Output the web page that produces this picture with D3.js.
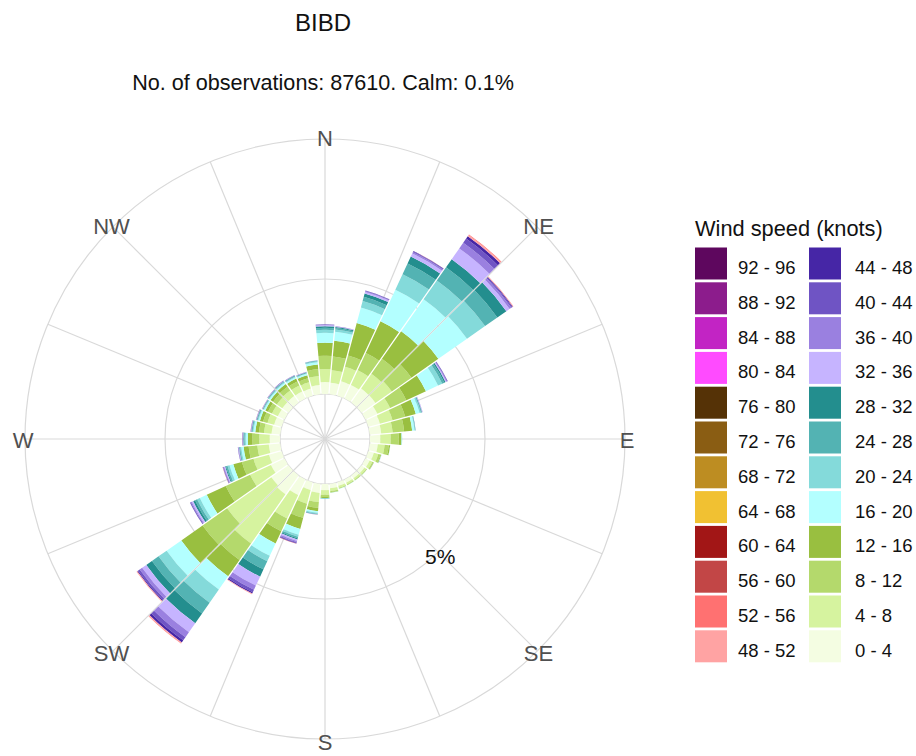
<!DOCTYPE html>
<html>
<head>
<meta charset="utf-8">
<script src="https://cdn.jsdelivr.net/npm/d3@7"></script>
<style>
body { margin: 0; background: #fff; }
svg { font-family: "Liberation Sans", Arial, sans-serif; }
</style>
</head>
<body>
<svg width="916" height="756"></svg>
<script>
// wind directions (degrees), one bar every 10
const directions = d3.range(0, 360, 10)

// speed bins (knots) and their colours, low to high
const speedBins = ["0 - 4", "4 - 8", "8 - 12", "12 - 16", "16 - 20", "20 - 24",
	"24 - 28", "28 - 32", "32 - 36", "36 - 40", "40 - 44", "44 - 48",
	"48 - 52", "52 - 56", "56 - 60", "60 - 64", "64 - 68", "68 - 72",
	"72 - 76", "76 - 80", "80 - 84", "84 - 88", "88 - 92", "92 - 96"]
const binColours = ["#f4fde2", "#d6f39f", "#b4d96c", "#99bf40", "#b3ffff", "#84dada",
	"#53b3b3", "#238e8e", "#c6b4ff", "#9a80e0", "#6f54c4", "#4626a6",
	"#ffa3a3", "#ff7171", "#c24646", "#a21616", "#f1c132", "#bd8d22",
	"#8a5d13", "#553206", "#ff4bff", "#c224c4", "#8c1c8c", "#5e075e"]

// percentage of observations per direction, one array per speed bin
const s0_4   = [0.52,0.50,0.65,0.65,0.74,0.74,0.57,0.52,0.50,0.45,0.35,0.25,0.20,0.16,0.15,0.15,0.16,0.20,0.27,0.40,0.35,0.74,1.00,0.91,0.65,0.57,0.50,0.45,0.38,0.34,0.32,0.33,0.34,0.33,0.32,0.40]
const s4_8   = [0.57,0.55,0.65,0.70,0.78,0.87,0.61,0.57,0.50,0.45,0.30,0.20,0.13,0.09,0.08,0.08,0.09,0.12,0.20,0.40,0.61,1.13,2.61,2.35,1.00,0.70,0.50,0.45,0.33,0.30,0.28,0.29,0.30,0.29,0.28,0.40]
const s8_12  = [0.57,0.60,0.51,0.83,0.80,1.04,0.78,0.57,0.50,0.35,0.18,0.10,0.05,0.03,0.03,0.03,0.03,0.05,0.10,0.25,0.64,0.61,0.87,1.30,1.17,0.52,0.38,0.30,0.22,0.20,0.19,0.20,0.20,0.20,0.19,0.30]
const s12_16 = [0.57,0.68,1.46,1.52,1.46,1.43,0.94,0.48,0.35,0.12,0.06,0.03,0.02,0.01,0.01,0.01,0.01,0.02,0.04,0.15,0.50,0.59,0.87,1.13,0.91,0.39,0.22,0.20,0.16,0.14,0.13,0.135,0.14,0.135,0.13,0.20]
const s16_20 = [0.43,0.40,0.70,1.52,1.70,1.52,0.58,0.17,0.10,0.02,0.01,0.01,0.005,0.005,0.005,0.005,0.01,0.01,0.02,0.07,0.26,0.59,0.70,0.78,0.33,0.17,0.10,0.09,0.08,0.07,0.065,0.068,0.07,0.068,0.065,0.10]
const s20_24 = [0.13,0.10,0.29,0.74,1.00,0.96,0.20,0.06,0.03,0.01,0,0.005,0,0,0,0,0,0,0.01,0.04,0.09,0.26,0.70,0.43,0.13,0.09,0.05,0.05,0.04,0.035,0.03,0.032,0.035,0.032,0.03,0.04]
const s24_28 = [0.09,0.06,0.19,0.52,0.70,0.65,0.10,0.03,0.01,0,0,0,0,0,0,0,0,0,0.005,0.02,0.07,0.39,0.57,0.35,0.10,0.07,0.03,0.035,0.03,0.025,0.022,0.024,0.025,0.024,0.022,0.02]
const s28_32 = [0.07,0.04,0.15,0.33,0.43,0.48,0.06,0.02,0.01,0,0,0,0,0,0,0,0,0,0.005,0.01,0.05,0.35,0.52,0.30,0.09,0.04,0.02,0.025,0.02,0.02,0.018,0.018,0.02,0.018,0.018,0.01]
const s32_36 = [0.04,0.02,0.07,0.15,0.57,0.17,0.04,0.02,0.005,0,0,0.005,0.005,0,0,0,0,0,0,0.01,0.07,0.43,0.48,0.22,0.07,0.04,0.02,0.02,0.015,0.015,0.012,0.013,0.015,0.013,0.012,0.01]
const s36_40 = [0.02,0.01,0.03,0.06,0.30,0.09,0.03,0.01,0,0,0,0,0,0,0,0,0,0,0,0.005,0.05,0.20,0.26,0.13,0.04,0.035,0.015,0.012,0.01,0.01,0.008,0.008,0.01,0.008,0.008,0]
const s40_44 = [0.01,0.01,0.02,0.03,0.22,0.05,0.02,0,0,0,0,0,0,0,0,0,0,0,0,0,0.04,0.12,0.17,0.09,0.03,0.02,0.01,0.01,0.008,0.005,0.005,0.005,0.005,0.005,0.005,0]
const s44_48 = [0.01,0,0.01,0.02,0.13,0.03,0.01,0,0,0,0,0,0,0,0,0,0,0,0,0,0.02,0.06,0.11,0.04,0.01,0.01,0.005,0.005,0.004,0.003,0.002,0.002,0.003,0.002,0.002,0]
const s48_52 = [0,0,0,0.01,0.06,0.02,0,0,0,0,0,0,0,0,0,0,0,0,0,0.005,0.01,0.02,0.04,0.03,0,0.01,0,0.005,0.005,0.005,0.005,0.005,0.005,0.005,0,0]
const s52_56 = [0,0,0,0,0.03,0.01,0,0,0,0,0,0,0,0,0,0,0,0,0,0,0.01,0.01,0.02,0.01,0,0,0,0,0,0,0,0,0,0,0,0]

const binSeries = [s0_4, s4_8, s8_12, s12_16, s16_20, s20_24, s24_28,
	s28_32, s32_36, s36_40, s40_44, s44_48, s48_52, s52_56]

const compass = ["N", "NE", "E", "SE", "S", "SW", "W", "NW"]
const gridStep = 5   // % between the labelled rings

var svg = d3.select("svg"),
	cx = 325,
	cy = 439,
	holeR = 45,
	outerR = 300

// radial scale: % of observations -> pixels, starting at the calm hole
var r = d3.scaleLinear()
	.domain([0, gridStep])
	.range([holeR, holeR + 115])

var ang = d3.scaleLinear()
	.domain([0, 360])
	.range([0, 2 * Math.PI])

svg.append("rect").attr("width", 916).attr("height", 756).attr("fill", "#fff")

var g = svg.append("g")
	.attr("transform", "translate(" + cx + "," + cy + ")")

// grid: spokes every 22.5 degrees and rings
var grid = g.append("g").attr("class", "grid")
grid.selectAll("line")
	.data(d3.range(0, 360, 22.5))
	.enter()
	.append("line")
	.attr("x1", 0).attr("y1", 0)
	.attr("x2", d => outerR * Math.sin(ang(d)))
	.attr("y2", d => -outerR * Math.cos(ang(d)))
	.attr("stroke", "#d9d9d9")
	.attr("stroke-width", 1.2)

grid.selectAll("circle")
	.data([holeR, r(gridStep), outerR])
	.enter()
	.append("circle")
	.attr("r", d => d)
	.attr("fill", "none")
	.attr("stroke", "#d9d9d9")
	.attr("stroke-width", 1.2)

// stack bins per direction
var stacked = d3.stack()
	.keys(d3.range(binSeries.length))
	.value((d, k) => binSeries[k][d])(d3.range(directions.length))

var arc = d3.arc()
	.innerRadius(d => r(d[0]))
	.outerRadius(d => r(d[1]))
	.startAngle(d => ang(directions[d.data] - 5))
	.endAngle(d => ang(directions[d.data] + 5))
	.padAngle(0.016)
	.padRadius(80)

g.append("g").attr("class", "bars")
	.selectAll("g")
	.data(stacked)
	.enter()
	.append("g")
	.attr("fill", (d, i) => binColours[i])
	.selectAll("path")
	.data(d => d.filter(s => s[1] - s[0] > 0))
	.enter()
	.append("path")
	.attr("d", arc)

// ring label
g.append("text")
	.attr("x", 163 * Math.sin(ang(135)))
	.attr("y", -163 * Math.cos(ang(135)) + 2)
	.attr("text-anchor", "middle")
	.attr("dominant-baseline", "central")
	.attr("font-size", 21)
	.attr("fill", "#111")
	.text(gridStep + "%")

// compass labels
g.selectAll(".compass")
	.data(compass)
	.enter()
	.append("text")
	.attr("class", "compass")
	.attr("x", (d, i) => 302 * Math.sin(ang(i * 45)))
	.attr("y", (d, i) => -302 * Math.cos(ang(i * 45)) + 1)
	.attr("text-anchor", "middle")
	.attr("dominant-baseline", "central")
	.attr("font-size", 22)
	.attr("fill", "#505050")
	.text(d => d)

// titles
svg.append("text")
	.attr("x", 323).attr("y", 31)
	.attr("text-anchor", "middle")
	.attr("font-size", 24)
	.attr("fill", "#111")
	.text("BIBD")

svg.append("text")
	.attr("x", 323).attr("y", 90)
	.attr("text-anchor", "middle")
	.attr("font-size", 21.6)
	.attr("fill", "#111")
	.text("No. of observations: 87610. Calm: 0.1%")

// legend: two columns, highest bins first
var legend = svg.append("g").attr("transform", "translate(695,0)")
legend.append("text")
	.attr("x", 0).attr("y", 236)
	.attr("font-size", 21.8)
	.attr("fill", "#111")
	.text("Wind speed (knots)")

var rowH = 34.8
var items = legend.selectAll(".item")
	.data(d3.range(speedBins.length).reverse())
	.enter()
	.append("g")
	.attr("class", "item")
	.attr("transform", (b, i) => "translate(" + (i < 12 ? 0 : 114) + "," + (247.5 + (i % 12) * rowH) + ")")

items.append("rect")
	.attr("width", 32)
	.attr("height", 32)
	.attr("fill", b => binColours[b])

items.append("text")
	.attr("x", (b, i) => i < 12 ? 43 : 46)
	.attr("y", 26.5)
	.attr("font-size", 18.5)
	.attr("fill", "#111")
	.text(b => speedBins[b])
</script>
</body>
</html>
